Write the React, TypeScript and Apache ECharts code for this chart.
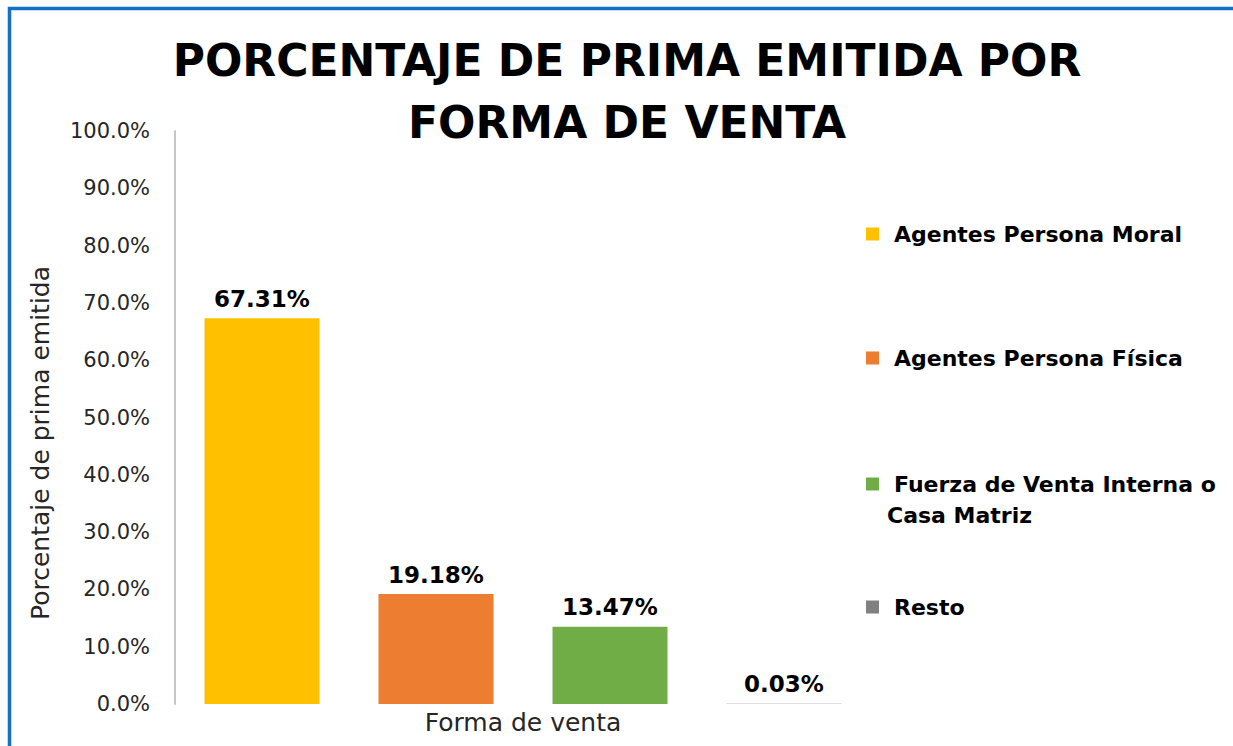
import React, { useEffect, useRef } from "react";
import * as echarts from "echarts";

const categories = ["Forma de venta"];
const seriesNames = [
  "Agentes Persona Moral",
  "Agentes Persona Física",
  "Fuerza de Venta Interna o Casa Matriz",
  "Resto",
];
const seriesValues = [67.31, 19.18, 13.47, 0.03];
const seriesColors = ["#FFC000", "#ED7D31", "#70AD47", "#808080"];
const yMin = 0;
const yMax = 100;
const yInterval = 10;
const titleText = "PORCENTAJE DE PRIMA EMITIDA POR\nFORMA DE VENTA";
const yAxisName = "Porcentaje de prima emitida";

const FONT = "'DejaVu Sans', sans-serif";

export default function App() {
  const ref = useRef<HTMLDivElement>(null);
  useEffect(() => {
    if (!ref.current) return;
    const chart = echarts.init(ref.current, null, { renderer: "svg" });
    const legendTops = [218.5, 342.5, 468.5, 591.5];
    chart.setOption({
      animation: false,
      backgroundColor: "#ffffff",
      title: {
        text: titleText,
        left: 622,
        top: 24,
        textAlign: "center",
        textStyle: {
          fontFamily: FONT,
          fontSize: 44,
          fontWeight: "bold",
          color: "#000",
          lineHeight: 62,
        },
      },
      grid: { left: 175, right: 362, top: 131, bottom: 42 },
      legend: seriesNames.map((n, i) => ({
        data: [n],
        orient: "vertical",
        left: 866,
        top: legendTops[i],
        padding: 0,
        itemWidth: 13,
        itemHeight: 13,
        itemGap: 14,
        icon: "rect",
        selectedMode: false,
        formatter: i === 2 ? () => "Fuerza de Venta Interna o" : undefined,
        textStyle: {
          fontFamily: FONT,
          fontSize: 22,
          fontWeight: "bold",
          color: "#000",
          lineHeight: 31,
          padding: [0, 0, 0, 10],
        },
      })),
      xAxis: {
        type: "category",
        data: categories,
        axisLine: { show: false },
        axisTick: { show: false },
        axisLabel: {
          fontFamily: FONT,
          fontSize: 25,
          color: "#262626",
          margin: 6,
        },
      },
      yAxis: {
        type: "value",
        min: yMin,
        max: yMax,
        interval: yInterval,
        axisLine: { show: true, lineStyle: { color: "#c8c8c8", width: 2 } },
        axisTick: { show: false },
        splitLine: { show: false },
        axisLabel: {
          fontFamily: FONT,
          fontSize: 21,
          color: "#262626",
          margin: 25,
          formatter: (v: number) => v.toFixed(1) + "%",
        },
      },
      series: seriesNames.map((n, i) => ({
        name: n,
        type: "bar",
        data: [seriesValues[i]],
        barWidth: 115,
        barGap: "51.3%",
        itemStyle: { color: seriesColors[i] },
        label: {
          show: true,
          position: "top",
          distance: 8,
          fontFamily: FONT,
          fontSize: 23,
          fontWeight: "bold",
          color: "#000",
          formatter: (p: any) => Number(p.value).toFixed(2) + "%",
        },
      })),
      graphic: [
        {
          type: "rect",
          silent: true,
          z: 100,
          shape: { x: 9.5, y: 8.5, width: 1400, height: 900 },
          style: { fill: "none", stroke: "#1372C6", lineWidth: 3.5 },
        },
        {
          type: "text",
          x: 40,
          y: 443,
          rotation: Math.PI / 2,
          style: {
            text: yAxisName,
            fontFamily: FONT,
            fontSize: 25,
            fill: "#262626",
            textAlign: "center",
            textVerticalAlign: "middle",
          },
        },
        {
          type: "text",
          x: 887,
          y: 515,
          style: {
            text: "Casa Matriz",
            fontFamily: FONT,
            fontSize: 22,
            fontWeight: "bold",
            fill: "#000",
            textAlign: "left",
            textVerticalAlign: "middle",
          },
        },
      ],
    });
    return () => chart.dispose();
  }, []);
  return (
    <div
      ref={ref}
      style={{ position: "fixed", left: 0, top: 0, width: 1233, height: 746 }}
    />
  );
}
